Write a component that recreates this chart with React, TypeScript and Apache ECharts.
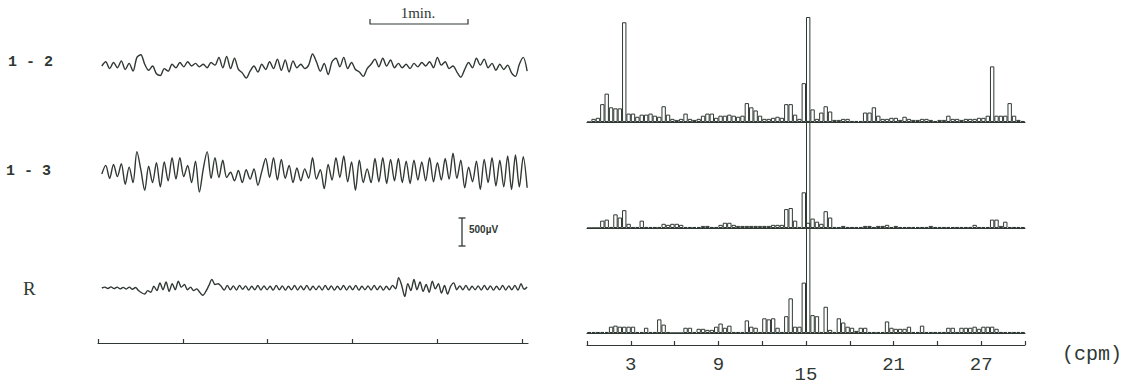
import React, { useEffect, useRef } from "react";
import * as echarts from "echarts";

// ---- Data ----
// EGG traces, amplitude in µV, evenly sampled along the recording
const trace12 = [
  0, 100, -60, 80, -40, 120, -80, 60, -120, 200,
  260, 40, -100, 0, -180, -220, -60, -120, 40, -40,
  80, -20, 100, 0, 60, -20, 40, -40, 80, 20,
  200, -40, 220, -60, 180, -80, -160, -280, -120, 0,
  -140, 40, -80, 100, -60, 160, -100, 140, -140, 120,
  -40, 40, -60, 20, 280, 100, -120, 60, -200, 100,
  180, -20, 200, -60, 80, -80, -140, -240, -60, 40,
  160, -20, 180, 0, 140, -40, 60, -40, 40, -60,
  60, -20, 80, 0, 100, -40, 200, 20, 100, -60,
  0, -140, -260, -80, 80, -40, 180, 20, 160, -40,
  60, -100, 40, -80, 20, -160, -240, 40, 200, -120,
];
const trace13 = [
  0, 200, -100, 220, -60, 240, -240, 160, -200, 520,
  100, -380, 180, -200, 260, -300, 280, -160, 380, -120,
  380, -60, 200, -200, 300, -420, 120, 520, -100, 380,
  -80, 320, -80, 40, -160, 80, -200, 100, -120, 120,
  -260, 60, 360, -80, 380, -140, 340, -100, 200, -200,
  140, -160, 120, -100, 380, -120, 100, -340, 220, -140,
  380, -80, 420, -180, 280, -380, 320, -200, 120, -200,
  360, -180, 380, -220, 340, -160, 360, -200, 300, -220,
  320, -140, 280, -160, 380, -180, 260, -140, 360, -120,
  480, -100, 320, -320, 160, -180, 300, -360, 340, -200,
  380, -280, 320, -300, 420, -360, 440, -300, 400, -320,
];
const traceR = [
  0, 20, -10, 25, -15, 20, -20, 15, -25, 20, -30, 10, -60, -110,
  -140, -60, -100, 40, -60, 120, -40, 140, -80, 100, -40, 160, 20, 80, -40,
  20, -60, -20, -100, -170, -80, 60, 200, 80, 100,
  40, -50, 60, -40, 50, -50, 60, -30, 50, -50,
  40, -40, 60, -50, 50, -40, 40, -50, 60, -40,
  50, -50, 40, -40, 60, -50, 50, -40, 60, -50,
  40, -40, 50, -50, 60, -40, 50, -50, 40, -40,
  60, -50, 50, -40, 60, -50, 40, -40, 50, -50,
  60, -40, 50, -50, 40, -40, 60,
  -20, 240, 60, -200, 100, -60, 200, -40, 140, -80, 80, -100, 160, -20, 100,
  -120, 60, -140, 40, 120, -40,
  50, -40, 60, -50, 40, -40, 50, -50, 60, -40, 50, -50, 40, -40, 60, -50,
  50, -40, 60, -50, 100, -30, 20,
];

// Power spectra, relative power per 0.3 cpm bin (0–30 cpm)
const spectrum12 = [
  0, 3, 4, 17, 27, 14, 13, 13, 95, 8,
  8, 5, 7, 7, 8, 6, 5, 15, 7, 3,
  2, 3, 8, 3, 2, 3, 6, 8, 8, 4,
  6, 6, 7, 6, 5, 6, 18, 14, 11, 6,
  3, 3, 4, 5, 4, 17, 17, 7, 3, 37,
  100, 12, 3, 9, 15, 10, 2, 2, 3, 3,
  1, 1, 1, 9, 9, 14, 6, 3, 3, 4,
  4, 2, 5, 3, 2, 2, 3, 3, 2, 1,
  2, 2, 6, 3, 3, 2, 3, 3, 3, 4,
  4, 6, 53, 6, 6, 6, 18, 6, 2, 1,
];
const spectrum13 = [
  0, 0, 0, 7, 8, 1, 13, 10, 17, 4,
  1, 1, 7, 1, 1, 1, 1, 4, 3, 4,
  4, 3, 1, 1, 1, 1, 2, 2, 1, 1,
  3, 5, 5, 3, 2, 2, 2, 2, 2, 2,
  2, 2, 3, 3, 3, 18, 19, 7, 1, 34,
  102, 9, 6, 4, 16, 10, 1, 1, 2, 1,
  1, 1, 1, 2, 2, 1, 2, 2, 3, 1,
  2, 1, 1, 1, 1, 1, 1, 1, 2, 1,
  1, 1, 1, 1, 1, 1, 1, 1, 3, 1,
  1, 1, 8, 8, 2, 6, 1, 1, 1, 1,
];
const spectrumR = [
  1, 1, 1, 1, 1, 6, 7, 6, 6, 6,
  6, 1, 1, 5, 1, 1, 13, 8, 1, 0,
  0, 0, 5, 5, 1, 4, 4, 3, 3, 6,
  9, 5, 7, 1, 1, 1, 12, 6, 5, 1,
  14, 13, 14, 5, 1, 16, 33, 6, 6, 48,
  105, 17, 16, 1, 25, 3, 1, 14, 10, 6,
  5, 2, 5, 5, 1, 1, 1, 1, 11, 5,
  4, 4, 4, 6, 1, 1, 7, 1, 1, 1,
  1, 1, 5, 5, 1, 5, 5, 5, 6, 4,
  6, 6, 6, 4, 1, 1, 1, 1, 1, 1,
];

const binWidthCpm = 0.3;
const cpmBins = spectrum12.map((_, i) => (i * binWidthCpm).toFixed(1));
const cpmTicks = [0, 3, 6, 9, 12, 15, 18, 21, 24, 27, 30];
const cpmTickLabels = [3, 9, 15, 21, 27];
const timeTicks = [0, 1, 2, 3, 4, 5];
const traceStart = 0.045;
const traceEnd = 5.06;
const traceNames = ["1 - 2", "1 - 3", "R"];

const INK = "#2f3833";

function toXY(values: number[]) {
  const step = (traceEnd - traceStart) / (values.length - 1);
  return values.map((v, i) => [traceStart + i * step, v]);
}

export default function App() {
  const ref = useRef<HTMLDivElement>(null);

  useEffect(() => {
    if (!ref.current) return;
    const chart = echarts.init(ref.current, null, { renderer: "svg" });

    const traceCenters = [66, 174, 288];
    const traceHalf = 56;
    const specBaselines = [122, 228, 333];
    const specH = 115.5;

    const grids: any[] = [];
    traceCenters.forEach((c) => grids.push({ left: 98, width: 430, top: c - traceHalf, height: traceHalf * 2 }));
    grids.push({ left: 98, width: 430, top: 303, height: 40 });
    specBaselines.forEach((b) => grids.push({ left: 587, width: 438, top: b - specH, height: specH }));
    grids.push({ left: 587, width: 438, top: 305, height: 40 });

    const xAxes: any[] = [];
    const yAxes: any[] = [];
    for (let i = 0; i < 3; i++) {
      xAxes.push({ gridIndex: i, type: "value", min: 0, max: 5.07, show: false });
      yAxes.push({ gridIndex: i, type: "value", min: -1300, max: 1300, show: false });
    }
    xAxes.push({
      gridIndex: 3,
      type: "value",
      min: 0,
      max: 5.07,
      interval: 1,
      axisLine: { show: true, lineStyle: { color: INK, width: 1.2 } },
      axisTick: { show: true, inside: true, length: 4, customValues: timeTicks, lineStyle: { color: INK, width: 1.2 } },
      axisLabel: { show: false },
      splitLine: { show: false },
    });
    yAxes.push({ gridIndex: 3, type: "value", min: 0, max: 1, show: false });
    for (let k = 0; k < 3; k++) {
      xAxes.push({
        gridIndex: 4 + k,
        type: "category",
        data: cpmBins,
        boundaryGap: true,
        axisLine: { show: true, lineStyle: { color: INK, width: 1.2 } },
        axisTick: { show: false },
        axisLabel: { show: false },
        splitLine: { show: false },
      });
      yAxes.push({ gridIndex: 4 + k, type: "value", min: 0, max: 110, show: false });
    }
    xAxes.push({
      gridIndex: 7,
      type: "value",
      min: 0,
      max: 30,
      interval: 3,
      axisLine: { show: true, lineStyle: { color: INK, width: 1.2 } },
      axisTick: { show: true, inside: true, length: 4, customValues: cpmTicks, lineStyle: { color: INK, width: 1.2 } },
      splitLine: { show: false },
      axisLabel: {
        show: true,
        margin: 10,
        fontFamily: '"Liberation Mono", monospace',
        fontSize: 19,
        color: INK,
        formatter: (v: number) => {
          if (!cpmTickLabels.includes(v)) return "";
          return v === 15 ? `{low|${v}}` : `${v}`;
        },
        rich: {
          low: {
            padding: [10, 0, 0, 0],
            fontFamily: '"Liberation Mono", monospace',
            fontSize: 19,
            color: INK,
          },
        },
      },
    });
    yAxes.push({ gridIndex: 7, type: "value", min: 0, max: 1, show: false });

    const traces = [trace12, trace13, traceR];
    const spectra = [spectrum12, spectrum13, spectrumR];
    const series: any[] = [];
    traces.forEach((t, i) => {
      series.push({
        name: traceNames[i],
        type: "line",
        xAxisIndex: i,
        yAxisIndex: i,
        data: toXY(t),
        showSymbol: false,
        symbol: "none",
        smooth: 0.3,
        clip: false,
        lineStyle: { color: INK, width: 1.4, join: "round" },
      });
    });
    spectra.forEach((s, k) => {
      series.push({
        name: "spectrum " + traceNames[k],
        type: "bar",
        xAxisIndex: 4 + k,
        yAxisIndex: 4 + k,
        data: s,
        barCategoryGap: "0%",
        clip: false,
        itemStyle: { color: "rgba(0,0,0,0)", borderColor: INK, borderWidth: 1 },
      });
    });

    const labelFont = 'bold 15px "Liberation Mono", monospace';
    chart.setOption({
      animation: false,
      backgroundColor: "#ffffff",
      grid: grids,
      xAxis: xAxes,
      yAxis: yAxes,
      series,
      graphic: [
        { type: "text", x: 8, y: 62, style: { text: "1 - 2", font: labelFont, fill: INK, verticalAlign: "middle" } },
        { type: "text", x: 6, y: 171, style: { text: "1 - 3", font: labelFont, fill: INK, verticalAlign: "middle" } },
        { type: "text", x: 23, y: 288, style: { text: "R", font: '19px "Liberation Serif", serif', fill: INK, verticalAlign: "middle" } },
        {
          type: "polyline",
          shape: { points: [[370, 19], [370, 24], [468, 24], [468, 19]] },
          style: { stroke: INK, lineWidth: 1.2, fill: "none" },
        },
        { type: "text", x: 418, y: 13, style: { text: "1min.", font: '15px "Liberation Serif", serif', fill: INK, align: "center", verticalAlign: "middle" } },
        { type: "line", shape: { x1: 462, y1: 218, x2: 462, y2: 246 }, style: { stroke: INK, lineWidth: 1.3 } },
        { type: "line", shape: { x1: 458.5, y1: 218, x2: 465.5, y2: 218 }, style: { stroke: INK, lineWidth: 1.3 } },
        { type: "line", shape: { x1: 458.5, y1: 246, x2: 465.5, y2: 246 }, style: { stroke: INK, lineWidth: 1.3 } },
        { type: "text", x: 469, y: 229, style: { text: "500µV", font: 'bold 10px "Liberation Sans", sans-serif', fill: INK, verticalAlign: "middle" } },
        { type: "text", x: 1092, y: 354, style: { text: "(cpm)", font: '20px "Liberation Mono", monospace', fill: INK, align: "center", verticalAlign: "middle" } },
      ],
    });

    return () => chart.dispose();
  }, []);

  return (
    <div
      ref={ref}
      style={{ position: "fixed", left: 0, top: 0, width: "1134px", height: "385px", background: "#fff" }}
    />
  );
}
